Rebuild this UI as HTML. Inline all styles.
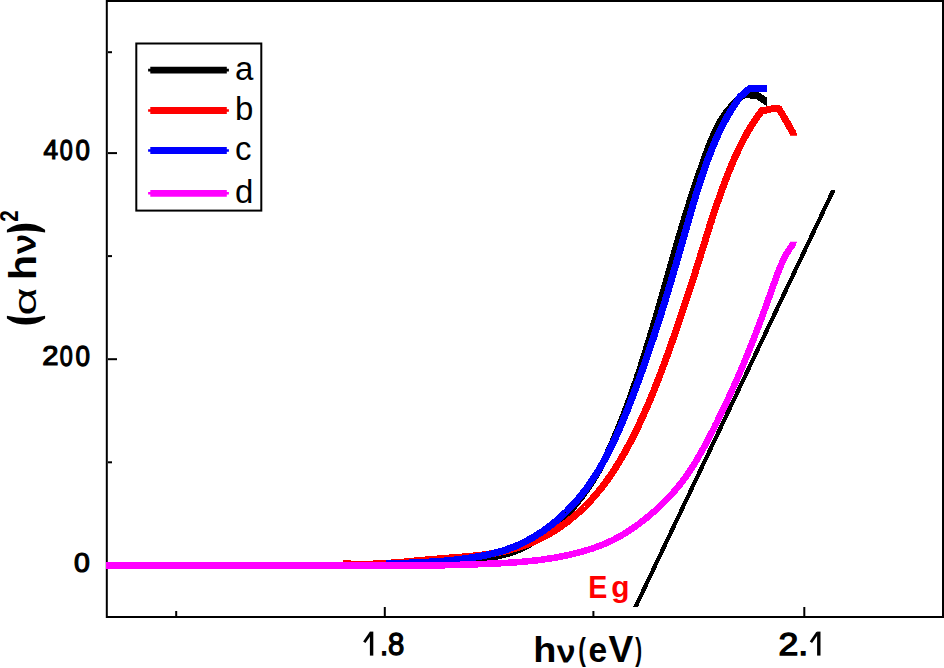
<!DOCTYPE html>
<html>
<head>
<meta charset="utf-8">
<style>
html,body{margin:0;padding:0;background:#fff;}
body{width:944px;height:668px;overflow:hidden;}
svg{display:block;}
text{font-family:"Liberation Sans",sans-serif;}
</style>
</head>
<body>
<svg width="944" height="668" viewBox="0 0 944 668">
<rect x="0" y="0" width="944" height="668" fill="#fff"/>
<!-- frame -->
<g fill="#000">
<rect x="105.8" y="0" width="2" height="618"/>
<rect x="106" y="0" width="838" height="2"/>
<rect x="942" y="0" width="2" height="618"/>
<rect x="106" y="616" width="838" height="2"/>
<rect x="108" y="152.1" width="9" height="2"/>
<rect x="108" y="358.2" width="9" height="2"/>
<rect x="108" y="564.3" width="9" height="2"/>
<rect x="108" y="51.2" width="4" height="2"/>
<rect x="108" y="255.1" width="4" height="2"/>
<rect x="108" y="461.3" width="4" height="2"/>
<rect x="383.8" y="607" width="2" height="9"/>
<rect x="803.3" y="607" width="2" height="9"/>
<rect x="175.2" y="611" width="2" height="5"/>
<rect x="592.4" y="611" width="2" height="5"/>
</g>
<text transform="translate(43.40,159.32) scale(0.817,0.883)" font-size="32" stroke="#000" stroke-width="1.4" fill="#000">4</text>
<text transform="translate(59.87,159.50) scale(0.731,0.900)" font-size="32" stroke="#000" stroke-width="1.4" fill="#000">0</text>
<text transform="translate(75.49,159.50) scale(0.806,0.900)" font-size="32" stroke="#000" stroke-width="1.4" fill="#000">0</text>
<text transform="translate(42.29,365.42) scale(0.913,0.883)" font-size="32" stroke="#000" stroke-width="1.4" fill="#000">2</text>
<text transform="translate(59.87,365.60) scale(0.731,0.900)" font-size="32" stroke="#000" stroke-width="1.4" fill="#000">0</text>
<text transform="translate(75.59,365.60) scale(0.812,0.900)" font-size="32" stroke="#000" stroke-width="1.4" fill="#000">0</text>
<text transform="translate(74.11,571.61) scale(0.888,0.892)" font-size="32" stroke="#000" stroke-width="1.4" fill="#000">0</text>
<text transform="translate(379.98,654.65) scale(0.862,0.948)" font-size="34" stroke="#000" stroke-width="1.4" fill="#000">.8</text>
<text transform="translate(778.45,654.65) scale(1.048,0.948)" font-size="34" stroke="#000" stroke-width="1.4" fill="#000">2.</text>
<text transform="translate(588.25,597.50) scale(0.924,0.986)" font-size="31" font-weight="bold" fill="#f00">E</text>
<text transform="translate(611.34,596.90) scale(0.963,0.971)" font-size="31" font-weight="bold" fill="#f00">g</text>
<text transform="translate(533.33,662.30) scale(1.024,0.959)" font-size="37" font-weight="bold" fill="#000">h</text>
<text transform="translate(557.71,661.53) scale(0.911,0.773)" font-size="37" stroke="#000" stroke-width="1.6" fill="#000">&#957;</text>
<text transform="translate(578.16,659.62) scale(0.620,0.860)" font-size="37" font-weight="bold" fill="#000">(</text>
<text transform="translate(588.39,662.40) scale(0.906,0.960)" font-size="37" font-weight="bold" fill="#000">e</text>
<text transform="translate(608.40,662.40) scale(1.004,1.004)" font-size="37" font-weight="bold" fill="#000">V</text>
<text transform="translate(635.30,659.52) scale(0.555,0.860)" font-size="37" font-weight="bold" fill="#000">)</text>
<text transform="translate(17.50,221.76) rotate(-90) scale(0.858,1.041)" font-size="24" font-weight="bold" fill="#000">2</text>
<text transform="translate(34.84,253.20) rotate(-90) scale(1.000,0.864)" font-size="37" stroke="#000" stroke-width="1.3" fill="#000">&#957;</text>
<text transform="translate(36.00,280.27) rotate(-90) scale(1.124,1.067)" font-size="37" font-weight="bold" fill="#000">h</text>
<text transform="translate(36.00,315.43) rotate(-90) scale(1.317,0.870)" font-size="37" fill="#000">&#945;</text>
<path fill="#000" d="M6.9 232.6Q26 228.2 45.1 232.6L45.1 229.8Q40 226.2 35 224.8Q26 222.8 17 224.8Q12 226.2 6.9 229.8Z"/>
<path fill="#000" d="M6.9 315.8Q26 320.2 45.1 315.8L45.1 318.6Q40 322.2 35 323.6Q26 325.6 17 323.6Q12 322.2 6.9 318.6Z"/>
<g fill="#000"><rect x="369.9" y="631.6" width="3.4" height="24"/><rect x="817.1" y="631.6" width="3.4" height="24"/></g>
<g stroke="#000" stroke-width="2.8" stroke-linecap="butt"><line x1="364.3" y1="642.2" x2="371" y2="632.6"/><line x1="810.9" y1="642.2" x2="817.6" y2="632.6"/></g>
<rect x="136.3" y="43.5" width="125" height="167.1" fill="none" stroke="#000" stroke-width="2"/>
<g stroke-width="6.8" fill="none">
<line x1="150.3" y1="70.1" x2="226.8" y2="70.1" stroke="#000"/><line x1="148.1" y1="70.1" x2="228.9" y2="70.1" stroke="#000" stroke-width="2.6"/>
<line x1="150.3" y1="110.5" x2="226.8" y2="110.5" stroke="#f00"/><line x1="148.1" y1="110.5" x2="228.9" y2="110.5" stroke="#f00" stroke-width="2.6"/>
<line x1="150.3" y1="150.5" x2="226.8" y2="150.5" stroke="#00f"/><line x1="148.1" y1="150.5" x2="228.9" y2="150.5" stroke="#00f" stroke-width="2.6"/>
<line x1="150.3" y1="193.3" x2="226.8" y2="193.3" stroke="#f0f"/><line x1="148.1" y1="193.3" x2="228.9" y2="193.3" stroke="#f0f" stroke-width="2.6"/>
</g>
<g font-size="33" fill="#000">
<text x="235" y="80">a</text>
<text x="235" y="120">b</text>
<text x="235" y="160">c</text>
<text x="235" y="203">d</text>
</g>
<defs>
<clipPath id="cr"><path clip-rule="evenodd" d="M0 0H944V668H0Z M780 135.8H830V180H780Z"/></clipPath>
<clipPath id="ck"><path clip-rule="evenodd" d="M0 0H944V668H0Z M767 80H800V120H767Z"/></clipPath>
<clipPath id="cm"><rect x="0" y="241.7" width="944" height="430"/></clipPath>
</defs>
<polygon points="831.2,189.8 835.8,189.8 638,606.6 633.4,606.6" fill="#000" shape-rendering="crispEdges"/>
<g fill="none" stroke-width="7" stroke-linejoin="round" shape-rendering="crispEdges">
<polyline stroke="#000" points="400.0,563.5 402.9,563.3 405.8,563.1 408.8,562.9 411.7,562.7 414.7,562.5 417.7,562.4 420.7,562.2 423.7,562.1 426.7,561.9 429.7,561.8 432.7,561.7 435.8,561.6 438.8,561.4 441.8,561.3 444.9,561.2 447.9,561.1 451.0,560.9 454.0,560.7 457.1,560.6 460.1,560.4 463.1,560.2 466.2,560.0 469.2,559.7 472.2,559.5 475.2,559.2 478.2,558.9 481.2,558.5 484.1,558.1 487.1,557.7 490.1,557.3 493.0,556.8 495.9,556.3 498.8,555.7 501.7,555.1 504.5,554.3 507.4,553.6 510.2,552.7 513.0,551.8 515.7,550.7 518.5,549.6 521.2,548.4 523.9,547.1 526.6,545.7 529.2,544.3 531.8,542.8 534.4,541.2 536.9,539.5 539.4,537.8 541.9,536.1 544.3,534.3 546.7,532.4 549.1,530.5 551.4,528.6 553.7,526.7 555.9,524.7 558.1,522.7 560.3,520.6 562.4,518.5 564.5,516.4 566.6,514.3 568.6,512.1 570.6,509.9 572.6,507.7 574.6,505.4 576.5,503.1 578.3,500.8 580.2,498.5 582.0,496.1 583.8,493.7 585.5,491.3 587.2,488.9 588.9,486.4 590.6,484.0 592.2,481.5 593.8,478.9 595.3,476.4 596.8,473.8 598.3,471.3 599.8,468.7 601.2,466.0 602.6,463.4 603.9,460.8 605.3,458.1 606.6,455.4 607.9,452.7 609.1,450.0 610.4,447.3 611.6,444.6 612.8,441.8 614.0,439.1 615.1,436.3 616.3,433.5 617.5,430.8 618.6,428.0 619.7,425.2 620.9,422.3 622.0,419.5 623.1,416.7 624.2,413.9 625.3,411.1 626.3,408.2 627.4,405.4 628.4,402.5 629.5,399.7 630.5,396.9 631.5,394.0 632.5,391.2 633.5,388.3 634.5,385.5 635.5,382.6 636.5,379.8 637.4,376.9 638.4,374.0 639.3,371.2 640.3,368.3 641.2,365.5 642.1,362.6 643.0,359.8 644.0,356.9 644.9,354.0 645.8,351.2 646.6,348.3 647.5,345.4 648.4,342.6 649.3,339.7 650.1,336.8 651.0,334.0 651.9,331.1 652.7,328.2 653.6,325.4 654.4,322.5 655.3,319.6 656.1,316.8 656.9,313.9 657.8,311.0 658.6,308.1 659.4,305.3 660.2,302.4 661.1,299.5 661.9,296.7 662.7,293.8 663.5,290.9 664.3,288.0 665.2,285.2 666.0,282.3 666.8,279.4 667.6,276.5 668.4,273.7 669.2,270.8 670.1,267.9 670.9,265.0 671.7,262.2 672.5,259.3 673.3,256.4 674.2,253.5 675.0,250.7 675.8,247.8 676.7,244.9 677.5,242.1 678.4,239.2 679.2,236.3 680.0,233.4 680.9,230.6 681.8,227.7 682.6,224.8 683.5,222.0 684.4,219.1 685.2,216.2 686.1,213.4 687.0,210.5 687.9,207.6 688.8,204.8 689.7,201.9 690.6,199.0 691.5,196.2 692.5,193.3 693.4,190.4 694.3,187.6 695.3,184.7 696.2,181.9 697.2,179.0 698.2,176.1 699.2,173.3 700.2,170.4 701.2,167.6 702.2,164.7 703.2,161.9 704.2,159.0 705.2,156.2 706.3,153.3 707.3,150.5 708.4,147.6 709.5,144.8 710.6,142.0 711.8,139.2 713.0,136.4 714.2,133.6 715.4,130.9 716.7,128.2 718.1,125.6 719.5,123.0 721.0,120.5 722.6,118.0 724.2,115.5 725.9,113.1 727.6,110.8 729.5,108.6 731.5,106.4 733.5,104.4 736.0,101.3 740.0,97.6 744.0,94.9 748.0,94.6 751.0,95.1 757.0,95.4 761.5,98.3 766.6,101.8 770.0,104.1" clip-path="url(#ck)"/>
<polyline stroke="#f00" points="343.0,563.6 346.0,563.8 348.9,563.9 351.9,564.1 354.9,564.1 357.9,564.2 360.8,564.2 363.8,564.2 366.8,564.2 369.8,564.1 372.8,564.0 375.8,563.9 378.7,563.8 381.7,563.6 384.7,563.5 387.7,563.3 390.7,563.1 393.7,562.8 396.7,562.6 399.7,562.4 402.7,562.1 405.7,561.9 408.7,561.6 411.7,561.3 414.7,561.0 417.7,560.8 420.8,560.5 423.8,560.2 426.8,559.9 429.8,559.6 432.8,559.4 435.9,559.1 438.9,558.9 441.9,558.6 445.0,558.4 448.0,558.1 451.0,557.9 454.0,557.7 457.1,557.4 460.1,557.2 463.1,556.9 466.1,556.7 469.2,556.4 472.2,556.1 475.2,555.8 478.2,555.4 481.2,555.1 484.2,554.7 487.1,554.3 490.1,553.8 493.0,553.4 496.0,552.9 498.9,552.3 501.9,551.7 504.8,551.1 507.7,550.4 510.5,549.7 513.4,548.9 516.3,548.1 519.1,547.2 521.9,546.3 524.7,545.3 527.5,544.3 530.3,543.2 533.0,542.0 535.7,540.8 538.4,539.5 541.1,538.2 543.7,536.8 546.4,535.4 549.0,534.0 551.6,532.4 554.1,530.9 556.7,529.3 559.2,527.6 561.6,525.9 564.1,524.2 566.5,522.4 568.9,520.6 571.2,518.7 573.5,516.8 575.8,514.9 578.1,512.9 580.3,510.9 582.5,508.8 584.7,506.7 586.8,504.6 588.8,502.4 590.9,500.2 592.9,498.0 594.9,495.8 596.8,493.5 598.7,491.2 600.6,488.9 602.4,486.5 604.2,484.1 606.0,481.7 607.8,479.3 609.5,476.9 611.2,474.4 612.8,471.9 614.5,469.4 616.1,466.8 617.7,464.3 619.3,461.7 620.8,459.2 622.3,456.6 623.8,454.0 625.3,451.3 626.7,448.7 628.2,446.1 629.6,443.4 631.0,440.8 632.4,438.1 633.7,435.4 635.0,432.8 636.4,430.1 637.7,427.4 639.0,424.7 640.2,422.0 641.5,419.2 642.8,416.5 644.0,413.8 645.2,411.1 646.4,408.3 647.6,405.6 648.8,402.8 649.9,400.1 651.1,397.3 652.2,394.5 653.4,391.8 654.5,389.0 655.6,386.2 656.7,383.4 657.8,380.6 658.9,377.8 659.9,375.0 661.0,372.2 662.1,369.4 663.1,366.6 664.2,363.8 665.2,360.9 666.2,358.1 667.3,355.3 668.3,352.4 669.3,349.6 670.3,346.8 671.3,343.9 672.3,341.1 673.3,338.2 674.3,335.4 675.3,332.5 676.3,329.7 677.3,326.8 678.3,324.0 679.2,321.1 680.2,318.3 681.2,315.4 682.1,312.6 683.1,309.7 684.0,306.8 685.0,304.0 685.9,301.1 686.9,298.2 687.8,295.4 688.8,292.5 689.7,289.6 690.6,286.8 691.5,283.9 692.5,281.1 693.4,278.2 694.3,275.3 695.2,272.5 696.1,269.6 697.0,266.7 697.9,263.9 698.8,261.0 699.7,258.2 700.5,255.3 701.4,252.5 702.3,249.6 703.2,246.8 704.1,243.9 705.0,241.1 705.9,238.2 706.7,235.4 707.6,232.5 708.5,229.7 709.4,226.9 710.3,224.0 711.3,221.2 712.2,218.3 713.1,215.5 714.0,212.7 715.0,209.8 715.9,207.0 716.9,204.2 717.9,201.3 718.9,198.5 719.9,195.7 720.9,192.9 721.9,190.0 722.9,187.2 724.0,184.4 725.0,181.5 726.1,178.7 727.2,175.9 728.3,173.1 729.5,170.3 730.6,167.4 731.8,164.6 733.0,161.8 734.2,159.0 735.4,156.3 736.7,153.5 738.0,150.7 739.3,148.0 740.6,145.3 741.9,142.6 743.3,139.9 744.7,137.3 746.1,134.7 747.6,132.1 749.1,129.5 750.6,127.0 752.1,124.5 753.7,122.1 755.3,119.7 756.9,117.3 758.6,115.0 760.3,112.7 762.0,110.5 766.0,110.1 770.0,109.1 775.0,108.6 779.0,108.8 786.3,121.0 792.6,132.4 794.2,138.0" clip-path="url(#cr)"/>
<polyline stroke="#00f" points="386.0,563.6 388.9,563.5 391.8,563.5 394.8,563.4 397.7,563.3 400.7,563.2 403.7,563.2 406.6,563.1 409.6,563.0 412.6,562.8 415.7,562.7 418.7,562.6 421.7,562.5 424.7,562.3 427.8,562.1 430.8,561.9 433.9,561.7 436.9,561.5 439.9,561.3 443.0,561.1 446.0,560.8 449.1,560.5 452.1,560.2 455.2,559.9 458.2,559.5 461.2,559.2 464.2,558.8 467.2,558.3 470.3,557.9 473.2,557.4 476.2,556.9 479.2,556.4 482.2,555.9 485.1,555.3 488.1,554.7 491.0,554.0 493.9,553.3 496.8,552.5 499.6,551.7 502.5,550.9 505.3,550.0 508.1,549.0 510.9,548.0 513.7,546.9 516.5,545.8 519.2,544.6 521.9,543.3 524.6,542.0 527.2,540.6 529.8,539.2 532.4,537.7 535.0,536.2 537.5,534.6 540.0,533.0 542.5,531.4 544.9,529.6 547.4,527.9 549.7,526.1 552.1,524.3 554.4,522.4 556.7,520.5 558.9,518.5 561.1,516.6 563.3,514.5 565.5,512.5 567.6,510.4 569.7,508.2 571.7,506.1 573.7,503.9 575.7,501.7 577.7,499.4 579.6,497.1 581.5,494.8 583.3,492.4 585.2,490.1 587.0,487.7 588.7,485.2 590.4,482.8 592.1,480.3 593.8,477.8 595.4,475.3 597.0,472.7 598.6,470.2 600.1,467.6 601.6,465.0 603.1,462.4 604.6,459.7 606.0,457.1 607.4,454.4 608.8,451.7 610.2,449.0 611.5,446.3 612.8,443.6 614.1,440.8 615.4,438.1 616.6,435.3 617.9,432.5 619.1,429.8 620.3,427.0 621.5,424.2 622.7,421.4 623.8,418.6 625.0,415.8 626.1,413.0 627.3,410.1 628.4,407.3 629.5,404.5 630.6,401.7 631.7,398.9 632.8,396.1 633.8,393.2 634.9,390.4 636.0,387.6 637.0,384.8 638.0,382.0 639.1,379.1 640.1,376.3 641.1,373.5 642.1,370.7 643.1,367.8 644.1,365.0 645.1,362.2 646.1,359.3 647.1,356.5 648.1,353.7 649.0,350.9 650.0,348.0 650.9,345.2 651.9,342.3 652.8,339.5 653.8,336.7 654.7,333.8 655.6,331.0 656.5,328.1 657.4,325.3 658.4,322.4 659.3,319.6 660.2,316.7 661.1,313.9 661.9,311.0 662.8,308.2 663.7,305.3 664.6,302.5 665.5,299.6 666.3,296.7 667.2,293.9 668.1,291.0 668.9,288.1 669.8,285.3 670.6,282.4 671.5,279.5 672.3,276.6 673.2,273.8 674.0,270.9 674.9,268.0 675.7,265.1 676.6,262.2 677.4,259.3 678.2,256.4 679.1,253.5 679.9,250.6 680.7,247.7 681.6,244.8 682.4,241.9 683.2,239.0 684.0,236.1 684.9,233.2 685.7,230.3 686.5,227.4 687.3,224.4 688.2,221.5 689.0,218.6 689.9,215.7 690.7,212.8 691.5,209.9 692.4,206.9 693.3,204.0 694.1,201.1 695.0,198.2 695.9,195.3 696.8,192.4 697.7,189.5 698.6,186.6 699.5,183.8 700.4,180.9 701.4,178.0 702.3,175.1 703.3,172.3 704.3,169.5 705.3,166.6 706.3,163.8 707.3,161.0 708.3,158.2 709.4,155.4 710.5,152.6 711.6,149.8 712.7,147.0 713.8,144.3 715.0,141.6 716.2,138.8 717.4,136.1 718.6,133.4 719.9,130.8 721.2,128.1 722.5,125.4 723.9,122.8 725.3,120.2 726.7,117.6 728.2,115.0 729.7,112.5 731.3,109.9 732.8,107.4 734.5,104.9 736.2,102.4 737.9,100.0 740.0,96.6 744.5,93.4 748.3,89.6 751.0,88.0 767.2,88.0"/>
<polyline stroke="#f0f" stroke-width="6.6" points="106.0,565.3 109.0,565.4 112.0,565.4 115.0,565.4 118.0,565.4 121.0,565.4 124.0,565.4 127.1,565.4 130.1,565.4 133.1,565.4 136.1,565.4 139.1,565.4 142.1,565.4 145.1,565.4 148.1,565.4 151.1,565.4 154.1,565.4 157.1,565.4 160.1,565.4 163.1,565.4 166.1,565.4 169.1,565.4 172.1,565.4 175.1,565.4 178.1,565.4 181.1,565.4 184.1,565.4 187.1,565.4 190.1,565.4 193.1,565.4 196.1,565.4 199.1,565.4 202.1,565.4 205.1,565.4 208.1,565.4 211.1,565.4 214.1,565.4 217.1,565.3 220.1,565.3 223.1,565.3 226.1,565.3 229.1,565.3 232.1,565.3 235.1,565.3 238.1,565.3 241.1,565.3 244.1,565.3 247.1,565.3 250.1,565.3 253.1,565.3 256.1,565.3 259.1,565.3 262.1,565.3 265.1,565.3 268.1,565.3 271.1,565.3 274.1,565.3 277.1,565.3 280.1,565.3 283.1,565.3 286.1,565.3 289.1,565.3 292.1,565.3 295.1,565.3 298.1,565.3 301.1,565.3 304.1,565.3 307.1,565.3 310.1,565.3 313.1,565.3 316.1,565.3 319.1,565.3 322.1,565.3 325.1,565.3 328.1,565.3 331.1,565.3 334.1,565.3 337.1,565.3 340.1,565.4 343.1,565.4 346.1,565.4 349.1,565.4 352.1,565.4 355.1,565.4 358.2,565.4 361.2,565.4 364.2,565.4 367.2,565.4 370.2,565.4 373.2,565.4 376.2,565.4 379.2,565.4 382.2,565.4 385.2,565.4 388.2,565.4 391.3,565.4 394.3,565.4 397.3,565.4 400.3,565.4 403.3,565.4 406.3,565.4 409.3,565.4 412.3,565.4 415.3,565.4 418.3,565.4 421.3,565.4 424.4,565.4 427.4,565.4 430.4,565.4 433.4,565.3 436.4,565.3 439.4,565.3 442.4,565.3 445.4,565.2 448.4,565.1 451.4,565.1 454.4,565.0 457.4,564.9 460.4,564.8 463.4,564.7 466.4,564.6 469.4,564.5 472.4,564.4 475.4,564.3 478.4,564.2 481.4,564.0 484.4,563.9 487.4,563.8 490.4,563.7 493.3,563.6 496.3,563.4 499.3,563.3 502.3,563.1 505.3,563.0 508.3,562.8 511.3,562.6 514.2,562.4 517.2,562.2 520.2,562.0 523.2,561.7 526.1,561.4 529.1,561.1 532.1,560.8 535.0,560.5 538.0,560.2 541.0,559.8 543.9,559.4 546.9,558.9 549.9,558.5 552.8,558.0 555.8,557.5 558.7,557.0 561.7,556.4 564.6,555.8 567.6,555.2 570.5,554.5 573.5,553.8 576.4,553.1 579.3,552.4 582.3,551.6 585.2,550.7 588.1,549.8 591.0,548.9 593.8,548.0 596.7,546.9 599.5,545.9 602.3,544.8 605.1,543.6 607.8,542.4 610.5,541.2 613.2,539.9 615.9,538.5 618.5,537.1 621.1,535.6 623.7,534.1 626.2,532.6 628.7,531.0 631.2,529.3 633.7,527.6 636.1,525.9 638.6,524.1 640.9,522.3 643.3,520.5 645.7,518.6 648.0,516.7 650.3,514.8 652.6,512.8 654.8,510.9 657.1,508.8 659.3,506.8 661.5,504.7 663.6,502.6 665.7,500.5 667.8,498.3 669.9,496.1 671.9,493.9 673.9,491.7 675.9,489.4 677.8,487.1 679.7,484.8 681.5,482.4 683.4,480.0 685.1,477.6 686.9,475.2 688.6,472.7 690.2,470.3 691.9,467.7 693.5,465.2 695.1,462.7 696.6,460.1 698.1,457.5 699.6,454.9 701.1,452.3 702.6,449.7 704.0,447.1 705.5,444.4 706.9,441.8 708.3,439.1 709.7,436.4 711.0,433.8 712.4,431.1 713.8,428.4 715.1,425.7 716.5,423.0 717.8,420.3 719.1,417.7 720.4,415.0 721.7,412.3 723.0,409.5 724.3,406.8 725.6,404.1 726.9,401.4 728.2,398.7 729.4,396.0 730.7,393.2 731.9,390.5 733.1,387.8 734.4,385.0 735.6,382.3 736.8,379.5 738.0,376.8 739.2,374.0 740.4,371.3 741.6,368.5 742.7,365.8 743.9,363.0 745.0,360.2 746.2,357.5 747.3,354.7 748.5,351.9 749.6,349.1 750.7,346.3 751.8,343.5 752.9,340.7 754.0,337.9 755.1,335.1 756.2,332.3 757.2,329.5 758.3,326.7 759.4,323.9 760.4,321.1 761.5,318.3 762.5,315.5 763.5,312.6 764.6,309.8 765.6,307.0 766.6,304.2 767.6,301.3 768.6,298.5 769.7,295.7 770.7,292.9 771.7,290.0 772.7,287.2 773.7,284.4 774.7,281.6 775.7,278.7 776.7,275.9 777.8,273.1 778.9,270.3 780.0,267.6 781.1,264.8 782.4,262.1 783.6,259.4 785.0,256.7 786.4,254.1 787.9,251.5 789.5,249.0 791.2,246.5 793.0,244.0 794.3,237.5" clip-path="url(#cm)"/>
</g>
</svg>
</body>
</html>
